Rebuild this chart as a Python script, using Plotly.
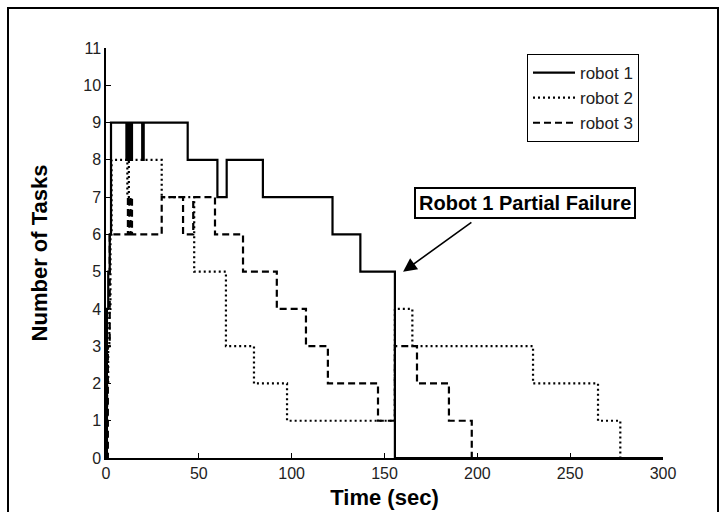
import plotly.graph_objects as go

# Robot 1 (solid)
r1_t = [0, 0.5, 1.2, 2.0, 2.7, 11.0, 11.6, 12.2, 12.8, 13.4, 14.0, 19.5, 20.3, 21.0, 44.0, 60.0, 65.0, 84.5, 122.0, 137.0, 155.6, 300]
r1_v = [0, 4, 5, 6, 9, 8, 9, 8, 9, 8, 9, 8, 9, 9, 8, 7, 8, 7, 6, 5, 0, 0]
# Robot 2 (dotted)
r2_t = [0, 0.6, 1.2, 1.8, 2.4, 3.0, 11.5, 12.3, 13.0, 30.0, 47.5, 64.6, 79.7, 97.5, 155.6, 165.0, 230.0, 265.0, 277.0]
r2_v = [1, 2, 3, 4, 6, 8, 7, 8, 8, 7, 5, 3, 2, 1, 4, 3, 2, 1, 0]
# Robot 3 (dashed)
r3_t = [0, 1.0, 2.0, 11.8, 12.6, 13.2, 14.0, 30.0, 41.5, 47.0, 58.7, 73.8, 92.0, 107.7, 119.5, 146.5, 155.6, 167.5, 184.7, 197.0]
r3_v = [0, 3, 6, 7, 6, 7, 6, 7, 6, 7, 6, 5, 4, 3, 2, 1, 3, 2, 1, 0]

series_names = ["robot 1", "robot 2", "robot 3"]
x_ticks = [0, 50, 100, 150, 200, 250, 300]
y_ticks = list(range(0, 12))

fig = go.Figure()
styles = ["solid", "2px,3px", "7px,4px"]
for name, t, v, d in zip(series_names, [r1_t, r2_t, r3_t], [r1_v, r2_v, r3_v], styles):
    fig.add_trace(go.Scatter(x=t, y=v, mode="lines", name=name,
                             line=dict(color="black", width=2.2, dash=d, shape="hv")))

W, H = 720, 512
L, R, T, B = 106, 57, 48, 54
pw, ph = W - L - R, H - T - B

def px(xp):
    return (xp - L) / pw

def py(yp):
    return (H - B - yp) / ph

tickfont = dict(family="Liberation Sans, Arial, sans-serif", size=16, color="#222222")
titlefont = dict(family="Liberation Sans, Arial, sans-serif", size=22, color="black")

fig.update_layout(
    width=W, height=H,
    margin=dict(l=L, r=R, t=T, b=B, autoexpand=False),
    paper_bgcolor="white", plot_bgcolor="white",
    showlegend=True,
    legend=dict(x=px(527), y=py(54), xanchor="left", yanchor="top",
                bordercolor="black", borderwidth=1, bgcolor="white",
                font=dict(family="Liberation Sans, Arial, sans-serif", size=17, color="#222222"),
                tracegroupgap=0, itemwidth=42),
    xaxis=dict(range=[0, 300], tickvals=x_ticks, ticktext=[str(v) for v in x_ticks],
               ticks="inside", ticklen=5, tickcolor="black", tickwidth=1, automargin=False,
               showline=True, linecolor="black", linewidth=1.5, showgrid=False, zeroline=False,
               tickfont=tickfont,
               title=dict(text="<b>Time (sec)</b>", font=titlefont, standoff=9)),
    yaxis=dict(range=[0, 11], tickvals=y_ticks, ticktext=[str(v) for v in y_ticks],
               ticks="inside", ticklen=5, tickcolor="black", tickwidth=1, automargin=False,
               showline=True, linecolor="black", linewidth=1.5, showgrid=False, zeroline=False,
               tickfont=tickfont,
               title=dict(text="<b>Number of Tasks</b>", font=titlefont, standoff=30)),
)

# Outer frame
fig.add_shape(type="rect", xref="paper", yref="paper",
              x0=px(8), x1=px(718), y0=py(530), y1=py(8),
              line=dict(color="black", width=2), fillcolor="rgba(0,0,0,0)", layer="above")

# Arrow (tail to tip)
fig.add_annotation(x=160, y=5, ax=197.6, ay=6.35, xref="x", yref="y", axref="x", ayref="y",
                   text="", showarrow=True, arrowhead=2, arrowsize=1.7, arrowwidth=1.6,
                   arrowcolor="black")
# Label box
fig.add_annotation(x=px(525), y=py(203), xref="paper", yref="paper", showarrow=False,
                   text="<b>Robot 1 Partial Failure</b>",
                   font=dict(family="Liberation Sans, Arial, sans-serif", size=20, color="black"),
                   bordercolor="black", borderwidth=2, borderpad=3, bgcolor="white",
                   xanchor="center", yanchor="middle")

fig.write_html("out.html")
